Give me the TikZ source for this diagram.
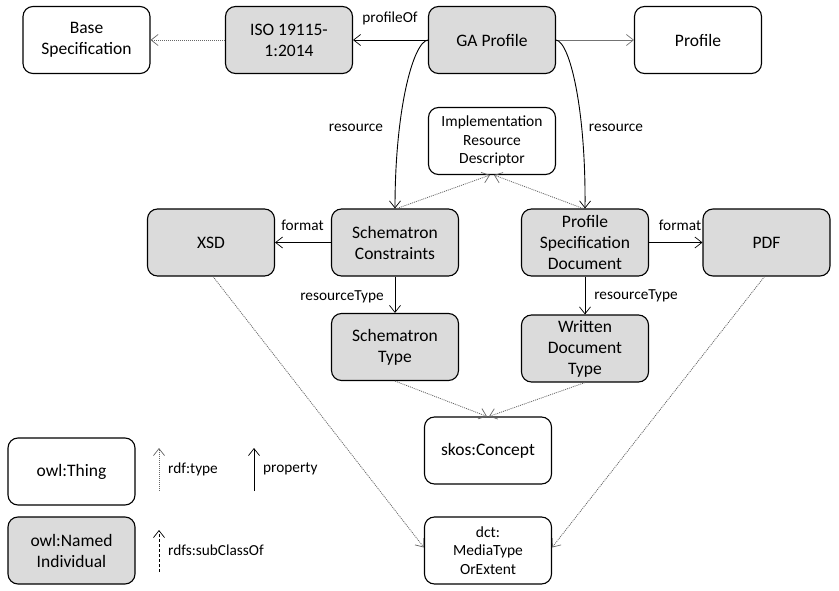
\documentclass[tikz,border=0pt]{standalone}
\usepackage{fontspec}
\setmainfont{Carlito}
\usetikzlibrary{arrows.meta,calc}
\begin{document}
\begin{tikzpicture}[x=1pt,y=-1pt,
  box/.style={draw, rounded corners=10pt, minimum width=127pt, minimum height=67pt,
    align=center, line width=1.1pt, inner sep=0pt, font=\fontsize{17.5}{21}\selectfont},
  smallbox/.style={box, font=\fontsize{15.5}{18.5}\selectfont},
  indiv/.style={fill=black!14},
  lbl/.style={font=\fontsize{15.3}{18}\selectfont, inner sep=0pt},
  tip/.style={-{Straight Barb[length=7pt,width=11pt,line width=0.7pt]}},
  prop/.style={tip, line width=0.9pt, black},
  typ/.style={tip, line width=0.8pt, black!60, dash pattern=on 1pt off 1pt},
  subc/.style={tip, line width=0.9pt, black, dash pattern=on 3pt off 2pt},
]
\useasboundingbox (0,0) rectangle (839,591);

% nodes
\node[box] (base) at (86.5,40) {Base\\Specification};
\node[box,indiv] (iso) at (289,40) {ISO 19115-\\1:2014};
\node[box,indiv] (ga) at (492,40) {GA Profile};
\node[box] (profile) at (698,40) {Profile};
\node[smallbox] (ird) at (492,141) {Implementation\\Resource\\Descriptor};
\node[box,indiv] (xsd) at (211,242.5) {XSD};
\node[box,indiv] (sc) at (395,242.5) {Schematron\\Constraints};
\node[box,indiv] (psd) at (585,242.5) {Profile\\Specification\\Document};
\node[box,indiv] (pdf) at (766.5,242.5) {PDF};
\node[box,indiv] (st) at (395,347) {Schematron\\Type};
\node[box,indiv] (wdt) at (585,348.5) {Written\\Document\\Type};
\node[box] (skos) at (488,450.5) {skos:Concept};
\node[smallbox] (dct) at (488,550.5) {dct:\\MediaType\\OrExtent};
\node[box] (thing) at (71.5,471.5) {owl:Thing};
\node[box,indiv] (named) at (71.5,550.5) {owl:Named\\Individual};

% edges
\draw[typ] (iso) -- (base);
\draw[prop] (ga) -- (iso);
\draw[tip, line width=0.9pt, black!55] (ga) -- (profile);
\draw[prop] (ga.west) .. controls (413,42) and (395,110) .. (sc.north);
\draw[prop] (ga.east) .. controls (570,42) and (586,110) .. (psd.north);
\draw[typ] ($(sc.north)+(2,0)$) -- ($(ird.south)+(-2,0)$);
\draw[typ] ($(psd.north)+(-2,0)$) -- ($(ird.south)+(2,0)$);
\draw[prop] (sc) -- (xsd);
\draw[prop] (psd) -- (pdf);
\draw[prop] (sc) -- (st);
\draw[prop] (psd) -- (wdt);
\draw[typ] (st.south) -- ($(skos.north)+(-1,0)$);
\draw[typ] (wdt.south) -- ($(skos.north)+(1,0)$);
\draw[typ] ($(xsd.south)+(2,0)$) -- ($(dct.west)+(0,-3)$);
\draw[typ] ($(pdf.south)+(-2,0)$) -- ($(dct.east)+(0,-3)$);

% edge labels
\node[lbl] (l1) at (390,18) {profileOf};
\node[lbl] (l2) at (356,128) {resource};
\node[lbl] (l3) at (616,128) {resource};
\node[lbl] (l4) at (302.5,225) {format};
\node[lbl] (l5) at (680,225) {format};
\node[lbl] (l6) at (342,297) {resourceType};
\node[lbl] (l7) at (636,296) {resourceType};

% legend
\coordinate (ta) at (159,491);
\coordinate (tb) at (159,448);
\coordinate (pa) at (254,491);
\coordinate (pb) at (254,448);
\coordinate (sa) at (159,572);
\coordinate (sb) at (159,530);
\draw[typ] (ta) -- (tb);
\draw[prop] (pa) -- (pb);
\draw[subc] (sa) -- (sb);
\node[lbl, anchor=west] (lt) at (168,469) {rdf:type};
\node[lbl, anchor=west] (lp) at (263,469) {property};
\node[lbl, anchor=west] (ls) at (168,550) {rdfs:subClassOf};
\end{tikzpicture}
\end{document}
